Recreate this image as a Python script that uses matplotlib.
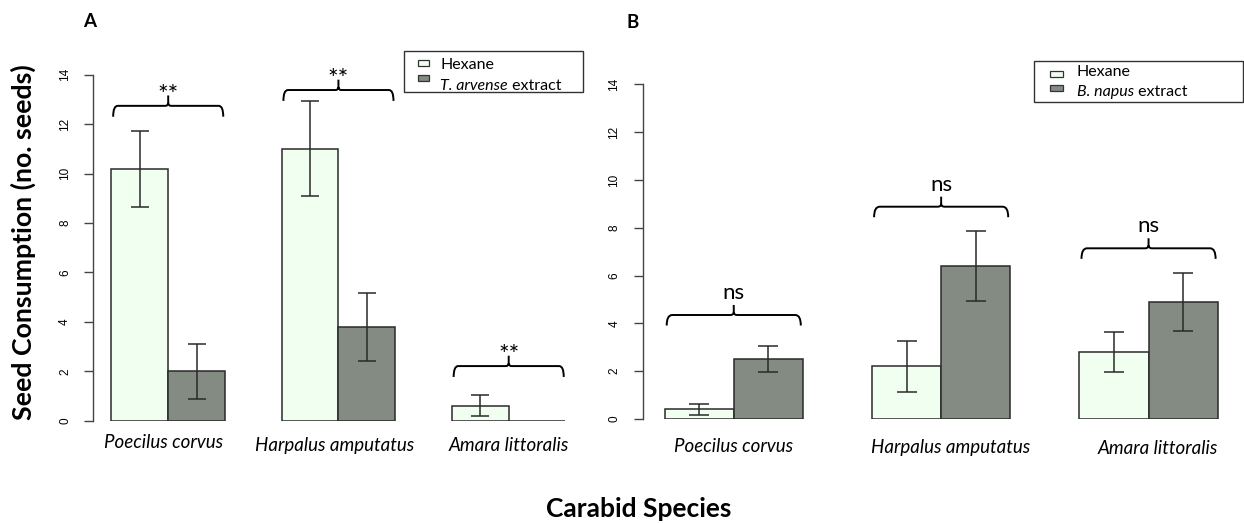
import numpy as np
import matplotlib.pyplot as plt
from matplotlib.patches import PathPatch, Rectangle
from matplotlib.path import Path
from matplotlib.transforms import blended_transform_factory

plt.rcParams['font.family'] = ['Lato', 'DejaVu Sans']

species = ['Poecilus corvus', 'Harpalus amputatus', 'Amara littoralis']

# panel A: T. arvense
a_hexane = [10.2, 11.0, 0.6]
a_hexane_se = [1.54, 1.92, 0.42]
a_extract = [2.0, 3.8, 0.0]
a_extract_se = [1.12, 1.38, 0.0]
a_signif = ['**', '**', '**']
a_brace_y = [12.74, 13.38, 2.21]

# panel B: B. napus
b_hexane = [0.4, 2.2, 2.8]
b_hexane_se = [0.22, 1.08, 0.82]
b_extract = [2.5, 6.4, 4.9]
b_extract_se = [0.54, 1.46, 1.22]
b_signif = ['ns', 'ns', 'ns']
b_brace_y = [4.35, 8.88, 7.14]

col_hex = '#F0FFF0'   # honeydew
col_ext = '#838B83'   # honeydew4
edge = '#2a2a2a'

W, H = 1244, 523


def px(x, y):
    # figure pixel (from top-left) -> figure fraction
    return x / W, 1 - y / H


def brace(ax, x0, x1, h, leg, tip, r=0.08, rt=0.05, rv=0.12):
    xm = (x0 + x1) / 2
    verts = [(x0, h - leg), (x0, h), (x0 + r, h),
             (xm - rt, h), (xm, h), (xm, h + rv),
             (xm, h + tip),
             (xm, h + rv), (xm, h), (xm + rt, h),
             (x1 - r, h), (x1, h), (x1, h - leg)]
    codes = [Path.MOVETO, Path.CURVE3, Path.CURVE3,
             Path.LINETO, Path.CURVE3, Path.CURVE3,
             Path.LINETO,
             Path.MOVETO, Path.CURVE3, Path.CURVE3,
             Path.LINETO, Path.CURVE3, Path.CURVE3]
    ax.add_patch(PathPatch(Path(verts, codes), fill=False, lw=1.4,
                           edgecolor='black', clip_on=False))


def legend_box(box, sq_x, sq_w, sq_y, text_x, text_y, extract_name):
    l, t, r, b = box
    x0, y0 = px(l, b)
    x1, y1 = px(r, t)
    fig.add_artist(Rectangle((x0, y0), x1 - x0, y1 - y0, transform=fig.transFigure,
                             facecolor='white', edgecolor='#333333', lw=1))
    for col, sy in zip([col_hex, col_ext], sq_y):
        sx0, sy0 = px(sq_x, sy + 3)
        sx1, sy1 = px(sq_x + sq_w, sy - 3)
        fig.add_artist(Rectangle((sx0, sy0), sx1 - sx0, sy1 - sy0,
                                 transform=fig.transFigure, facecolor=col,
                                 edgecolor='#333333', lw=0.9))
    fig.text(*px(text_x, text_y[0]), 'Hexane', fontsize=11.5,
             ha='left', va='baseline')
    t_it = fig.text(*px(text_x, text_y[1]), extract_name, fontsize=11.5,
                    style='italic', ha='left', va='baseline')
    fig.add_artist(plt.Annotation(' extract', xy=(1, 0), xycoords=t_it,
                                  fontsize=11.5, ha='left', va='bottom'))


def panel(ax, hexane, hex_se, extract, ext_se, signif, brace_y, capsize,
          sig_size, sig_base, lab_dx, lab_base):
    g = np.arange(len(species))
    x_hex = 1.5 + 3 * g
    x_ext = 2.5 + 3 * g
    ax.bar(x_hex, hexane, width=1, color=col_hex, edgecolor=edge, lw=1.1)
    ax.bar(x_ext, extract, width=1, color=col_ext, edgecolor=edge, lw=1.1)
    for xs, vals, se in [(x_hex, hexane, hex_se), (x_ext, extract, ext_se)]:
        vals = np.array(vals)
        se = np.array(se)
        m = se > 0
        ax.errorbar(xs[m], vals[m], yerr=se[m], fmt='none', ecolor=edge,
                    elinewidth=1.1, capsize=capsize, capthick=1.1)
    for i, (h, s) in enumerate(zip(brace_y, signif)):
        c = 2 + 3 * i
        brace(ax, c - 0.97, c + 0.97, h, 0.44, 0.42)
        ax.text(c, h + 0.42 + sig_base, s, ha='center', va='baseline',
                fontsize=sig_size, clip_on=False)
    trans = blended_transform_factory(ax.transData, fig.transFigure)
    for i, name in enumerate(species):
        ax.text(2 + 3 * i + lab_dx[i], 1 - lab_base[i] / H, name,
                transform=trans, style='italic', fontsize=13.5,
                ha='center', va='baseline')
    ax.set_xlim(0.68, 9.32)
    ax.set_ylim(0, 14)
    ax.set_yticks(range(0, 15, 2))
    ax.set_xticks([])
    ax.tick_params(axis='y', length=6.5, width=1, color='#444444', pad=9.5,
                   labelsize=8.5, labelrotation=90)
    for t in ax.get_yticklabels():
        t.set_fontfamily('Liberation Sans')
        t.set_va('center')
    for s in ['top', 'right', 'bottom']:
        ax.spines[s].set_visible(False)
    ax.spines['left'].set_bounds(0, 14)
    ax.spines['left'].set_color('#444444')
    ax.spines['left'].set_linewidth(1)


fig = plt.figure(figsize=(W / 100, H / 100), dpi=100)
ax_a = fig.add_axes([93.3 / W, 1 - 420.7 / H, (583.6 - 93.3) / W, (420.7 - 74.7) / H])
ax_b = fig.add_axes([642.5 / W, 1 - 419 / H, (1239.8 - 642.5) / W, (419 - 84.3) / H])

panel(ax_a, a_hexane, a_hexane_se, a_extract, a_extract_se, a_signif, a_brace_y,
      6.5, 18, -0.3, [-0.08, -0.06, 0.01], [448.3, 451, 451])
panel(ax_b, b_hexane, b_hexane_se, b_extract, b_extract_se, b_signif, b_brace_y,
      7, 16, 0.25, [0.0, 0.13, 0.13], [451.7, 453, 454])

legend_box((404, 50.7, 583, 92), 418, 10.5, [62.7, 78], 440, [69.3, 90],
           'T. arvense')
legend_box((1034, 60.7, 1242.5, 101.7), 1050, 12.5, [74.2, 87.8], 1076.7, [76, 96],
           'B. napus')

fig.text(*px(90, 26.7), 'A', fontsize=13.5, fontweight='bold',
         ha='center', va='baseline')
fig.text(*px(633, 28.3), 'B', fontsize=13.5, fontweight='bold',
         ha='center', va='baseline')
fig.text(*px(32, 242.5), 'Seed Consumption (no. seeds)', rotation=90,
         rotation_mode='anchor', fontsize=19.3, fontweight='bold',
         ha='center', va='baseline')
fig.text(*px(639, 516.7), 'Carabid Species', fontsize=19,
         fontweight='bold', ha='center', va='baseline')

fig.savefig('out.png', dpi=100)
